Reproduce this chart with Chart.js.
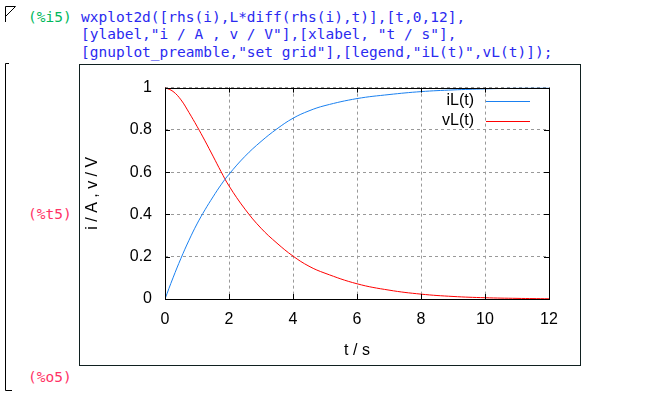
<!DOCTYPE html>
<html>
<head>
<meta charset="utf-8">
<script src="https://cdn.jsdelivr.net/npm/chart.js@4.4.1/dist/chart.umd.min.js"></script>
<style>
  html,body{margin:0;padding:0;background:#fff;}
  body{width:669px;height:398px;position:relative;overflow:hidden;}
  .lbl{position:absolute;font-family:"DejaVu Sans Mono",monospace;font-size:14.5px;line-height:17.3px;white-space:pre;}
  #code{left:81px;top:9px;color:#2a2af0;}
  #frame{position:absolute;left:79px;top:64px;width:500px;height:300px;border:1px solid #102020;}
  #frame canvas{position:absolute;left:0;top:0;}
</style>
</head>
<body>
<svg width="20" height="398" style="position:absolute;left:0;top:0" fill="none" stroke="#000" stroke-width="1">
  <path d="M5.5 22 V6.5 H15.5 L5.5 16.5"/>
  <path d="M9 63.5 H5.5 V390.5 H12"/>
</svg>
<div class="lbl" style="left:28px;top:9px;color:#00b85c">(%i5)</div>
<div class="lbl" id="code">wxplot2d([rhs(i),L*diff(rhs(i),t)],[t,0,12],
[ylabel,"i / A , v / V"],[xlabel, "t / s"],
[gnuplot_preamble,"set grid"],[legend,"iL(t)",vL(t)]);</div>
<div class="lbl" style="left:28px;top:206px;color:#ff3366">(%t5)</div>
<div class="lbl" style="left:28px;top:369px;color:#ff3366">(%o5)</div>
<div id="frame"><canvas id="plot" width="500" height="300"></canvas></div>
<script>
// values
var tVals  = [0,0.25,0.5,0.75,1,1.25,1.5,1.75,2,2.5,3,3.5,4,4.5,5,6,7,8,9,10,11,12];
var iLVals = [0,0.10,0.193,0.278,0.355,0.422,0.483,0.54,0.59,0.675,0.745,0.805,0.855,0.89,0.915,0.948,0.967,0.981,0.989,0.994,0.997,0.998];
var vLVals = [1,0.982,0.942,0.882,0.817,0.748,0.676,0.603,0.535,0.425,0.335,0.264,0.203,0.155,0.122,0.072,0.042,0.023,0.012,0.006,0.003,0.001];
var xTicks = [0,2,4,6,8,10,12];
var yTicks = [0,0.2,0.4,0.6,0.8,1];
var yTickLabels = ['0','0.2','0.4','0.6','0.8','1'];
var seriesNames = ['iL(t)','vL(t)'];
var seriesColors = ['#1a80f0','#ff0000'];

var FONT = {family:'"Liberation Sans", Arial, sans-serif', size:16};

function pts(vals){
  return tVals.map(function(t,i){return {x:t,y:vals[i]};});
}

var gnuplotBox = {
  id:'gnuplotBox',
  afterDatasetsDraw:function(chart){
    var c = chart.ctx, a = chart.chartArea;
    var xs = chart.scales.x, ys = chart.scales.y;
    c.save();
    c.strokeStyle = '#000';
    c.lineWidth = 1;
    c.strokeRect(Math.round(a.left)+0.5, Math.round(a.top)+0.5, Math.round(a.right-a.left), Math.round(a.bottom-a.top));
    c.beginPath();
    xTicks.forEach(function(v){
      var px = Math.round(xs.getPixelForValue(v))+0.5;
      c.moveTo(px,a.bottom); c.lineTo(px,a.bottom-5);
      c.moveTo(px,a.top); c.lineTo(px,a.top+5);
    });
    yTicks.forEach(function(v){
      var py = Math.round(ys.getPixelForValue(v))+0.5;
      c.moveTo(a.left,py); c.lineTo(a.left+5,py);
      c.moveTo(a.right,py); c.lineTo(a.right-5,py);
    });
    c.stroke();
    // legend, gnuplot style (top right, inside)
    c.font = FONT.size+'px '+FONT.family;
    c.textAlign = 'right';
    c.textBaseline = 'middle';
    chart.data.datasets.forEach(function(ds,i){
      var y = a.top + 13 + i*20;
      c.fillStyle = '#000';
      c.fillText(ds.label, a.right-75, y);
      c.strokeStyle = ds.borderColor;
      c.beginPath();
      c.moveTo(a.right-63, Math.round(y)+0.5);
      c.lineTo(a.right-19, Math.round(y)+0.5);
      c.stroke();
    });
    c.restore();
  }
};

new Chart(document.getElementById('plot'), {
  type:'line',
  data:{
    datasets:[
      {label:seriesNames[0], data:pts(iLVals), borderColor:seriesColors[0]},
      {label:seriesNames[1], data:pts(vLVals), borderColor:seriesColors[1]}
    ]
  },
  options:{
    responsive:false,
    animation:false,
    layout:{padding:{left:0,top:20,right:31,bottom:0}},
    elements:{
      point:{radius:0},
      line:{borderWidth:1,tension:0.4,fill:false}
    },
    plugins:{legend:{display:false},tooltip:{enabled:false}},
    scales:{
      x:{
        type:'linear', min:0, max:12,
        afterBuildTicks:function(s){ s.ticks = xTicks.map(function(v){return {value:v};}); },
        afterFit:function(s){ s.height = 66; },
        ticks:{color:'#000', font:FONT, padding:11, maxRotation:0, autoSkip:false,
               callback:function(v){ return String(v); }},
        grid:{color:'#999', lineWidth:1, drawTicks:false},
        border:{display:false, dash:[3,3]},
        title:{display:true, text:'t / s', color:'#000', font:FONT, padding:{top:0,bottom:5}}
      },
      y:{
        type:'linear', min:0, max:1,
        afterBuildTicks:function(s){ s.ticks = yTicks.map(function(v){return {value:v};}); },
        afterFit:function(s){ s.width = 85; },
        ticks:{color:'#000', font:FONT, padding:13, autoSkip:false,
               callback:function(v){ return yTickLabels[yTicks.indexOf(v)]; }},
        grid:{color:'#999', lineWidth:1, drawTicks:false},
        border:{display:false, dash:[3,3]},
        title:{display:true, text:'i / A , v / V', color:'#000', font:FONT, padding:{top:3,bottom:0}}
      }
    }
  },
  plugins:[gnuplotBox]
});
</script>
</body>
</html>
